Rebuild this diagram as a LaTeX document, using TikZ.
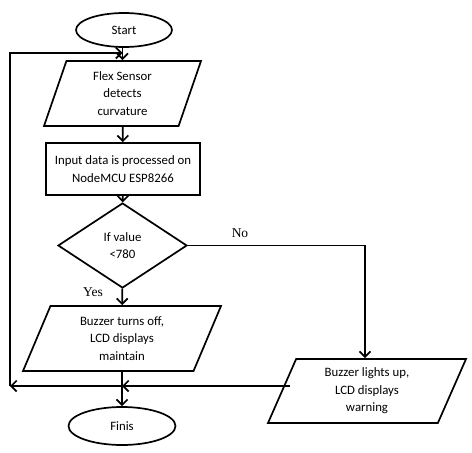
\documentclass[tikz,border=0pt]{standalone}
\usepackage{fontspec}
\setmainfont{Carlito}
\newfontfamily\serifl{Liberation Serif}
\usetikzlibrary{shapes.geometric,arrows.meta,calc}
\begin{document}
\begin{tikzpicture}[x=1pt,y=-1pt,
  every node/.style={font=\fontsize{12.8}{17.5}\selectfont, align=center, line width=1.7pt},
  ln/.style={line width=1.7pt},
  arr/.style={ln, -{Straight Barb[length=5.5pt,width=11pt]}},
  term/.style={draw, ellipse, inner sep=0pt},
  io/.style={draw, trapezium, trapezium stretches body, inner sep=0pt},
  proc/.style={draw, rectangle, inner sep=0pt},
  dec/.style={draw, diamond, inner sep=0pt, aspect=1.52},
  lbl/.style={font=\serifl\fontsize{13.5}{15}\selectfont}]
\useasboundingbox (0,0) rectangle (472,453);
\node[term, minimum width=96pt, minimum height=34pt] (start) at (124,30) {Start};
\node[io, trapezium left angle=63, trapezium right angle=117, minimum width=157pt, minimum height=65pt] (flex) at (122.5,93.5) {Flex Sensor\\detects\\curvature};
\node[proc, minimum width=154pt, minimum height=52pt] (proc) at (123,169) {Input data is processed on\\NodeMCU ESP8266};
\node[dec, minimum width=129pt, minimum height=85pt] (dec) at (122.5,245.5) {If value\\<780};
\node[io, trapezium left angle=58, trapezium right angle=122, minimum width=198pt, minimum height=65pt] (off) at (122,338.5) {Buzzer turns off,\\LCD displays\\maintain};
\node[io, trapezium left angle=58.6, trapezium right angle=121.4, minimum width=198pt, minimum height=64pt] (on) at (367,391) {Buzzer lights up,\\LCD displays\\warning};
\node[term, minimum width=107pt, minimum height=38pt] (fin) at (122,426) {Finis};
\node[lbl] (no) at (240,233) {No};
\node[lbl] (yes) at (93,292) {Yes};
\coordinate (lt) at (10,53);
\coordinate (lb) at (10,386);
\coordinate (jn) at (122,386);
\coordinate (onL) at (290,386);
\coordinate (nb) at (365,245.5);
\draw[arr] (start.south -| flex.north) -- (flex.north);
\draw[arr] (flex) -- (proc);
\draw[arr] (proc) -- (dec);
\draw[arr] (dec) -- (off);
\draw[arr] (off) -- (fin);
\draw[arr] (dec.east) -- (nb) -- (nb |- on.north);
\draw[arr] (onL) -- (jn);
\draw[arr] (jn) -- (lb);
\draw[arr] (lb) -- (lt) -- (lt -| flex.north);
\end{tikzpicture}
\end{document}
